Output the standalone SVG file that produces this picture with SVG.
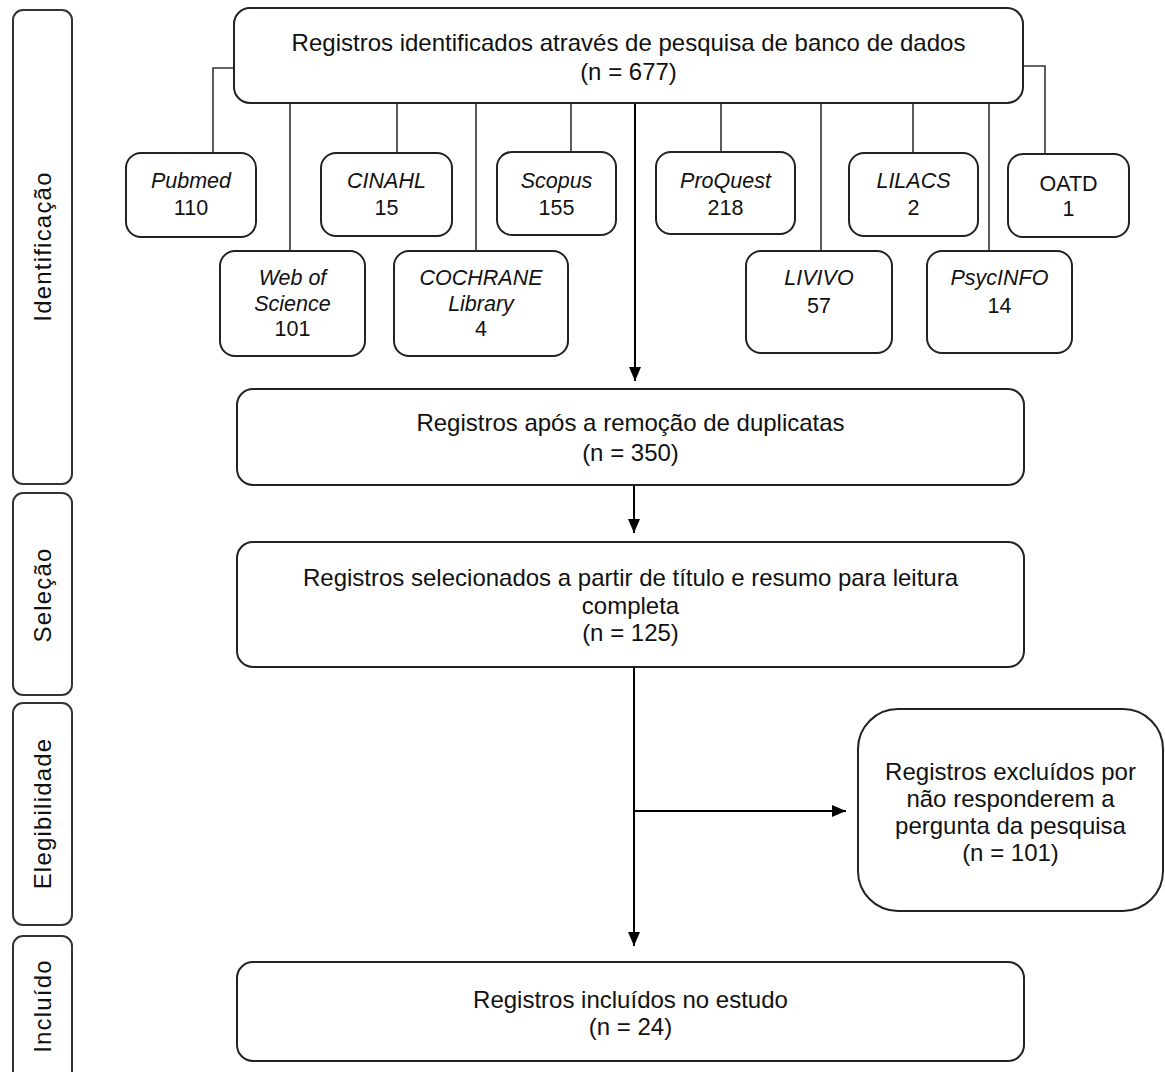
<svg xmlns="http://www.w3.org/2000/svg" width="1165" height="1072" viewBox="0 0 1165 1072">
<style>
  .box{fill:#fff;stroke:#222;stroke-width:2}
  .side{fill:#fff;stroke:#333;stroke-width:2}
  .t{font-family:"Liberation Sans",Arial,sans-serif;font-size:24px;fill:#111;text-anchor:middle}
  .d{font-family:"Liberation Sans",Arial,sans-serif;font-size:21.5px;fill:#111;text-anchor:middle}
  .i{font-style:italic}
  .s{font-family:"Liberation Sans",Arial,sans-serif;font-size:24px;fill:#111;text-anchor:middle;letter-spacing:1.2px}
  .c{fill:none;stroke:#333;stroke-width:1.6}
  .a{fill:none;stroke:#000;stroke-width:2}
</style>
<defs>
  <marker id="ah" markerUnits="userSpaceOnUse" markerWidth="14" markerHeight="14" viewBox="0 0 14 14" refX="14" refY="7" orient="auto">
    <path d="M0,1 L14,7 L0,13 Z" fill="#000"/>
  </marker>
</defs>
<rect width="1165" height="1072" fill="#fff"/>

<g id="phase-identificacao">
  <rect class="side" x="13" y="10" width="59" height="474" rx="10"/>
  <text class="s" transform="translate(50.5,246.5) rotate(-90)">Identificação</text>
</g>
<g id="phase-selecao">
  <rect class="side" x="13" y="493" width="59" height="202" rx="10"/>
  <text class="s" transform="translate(50.5,595) rotate(-90)">Seleção</text>
</g>
<g id="phase-elegibilidade">
  <rect class="side" x="13" y="703" width="59" height="222" rx="10"/>
  <text class="s" transform="translate(50.5,813.5) rotate(-90)">Elegibilidade</text>
</g>
<g id="phase-incluido">
  <rect class="side" x="13" y="936" width="59" height="150" rx="10"/>
  <text class="s" transform="translate(50.5,1006) rotate(-90)">Incluído</text>
</g>

<g id="connectors">
  <path class="c" d="M234,68 H213 V153"/>
  <path class="c" d="M1023,66 H1045 V154"/>
  <path class="c" d="M290,103 V251"/>
  <path class="c" d="M397,103 V153"/>
  <path class="c" d="M476,103 V251"/>
  <path class="c" d="M571,103 V152"/>
  <path class="c" d="M721,103 V152"/>
  <path class="c" d="M821,103 V251"/>
  <path class="c" d="M913,103 V153"/>
  <path class="c" d="M989,103 V251"/>
  <path class="a" d="M635,103 V381" marker-end="url(#ah)"/>
  <path class="a" d="M634,485 V533" marker-end="url(#ah)"/>
  <path class="a" d="M634,667 V946" marker-end="url(#ah)"/>
  <path class="a" d="M634,811 H846" marker-end="url(#ah)"/>
</g>

<g id="identified">
  <rect class="box" x="234" y="8" width="789" height="95" rx="16"/>
  <text class="t" x="628.5" y="51">Registros identificados através de pesquisa de banco de dados</text>
  <text class="t" x="628.5" y="80">(n = 677)</text>
</g>

<g id="pubmed">
  <rect class="box" x="126" y="153" width="130" height="84" rx="15"/>
  <text class="d i" x="191" y="188">Pubmed</text>
  <text class="d" x="191" y="215">110</text>
</g>
<g id="cinahl">
  <rect class="box" x="321" y="153" width="131" height="83" rx="15"/>
  <text class="d i" x="386.5" y="188">CINAHL</text>
  <text class="d" x="386.5" y="215">15</text>
</g>
<g id="scopus">
  <rect class="box" x="497" y="152" width="119" height="83" rx="15"/>
  <text class="d i" x="556.5" y="188">Scopus</text>
  <text class="d" x="556.5" y="215">155</text>
</g>
<g id="proquest">
  <rect class="box" x="656" y="152" width="139" height="82" rx="15"/>
  <text class="d i" x="725.5" y="188">ProQuest</text>
  <text class="d" x="725.5" y="215">218</text>
</g>
<g id="lilacs">
  <rect class="box" x="849" y="153" width="129" height="83" rx="15"/>
  <text class="d i" x="913.5" y="188">LILACS</text>
  <text class="d" x="913.5" y="215">2</text>
</g>
<g id="oatd">
  <rect class="box" x="1008" y="154" width="121" height="83" rx="15"/>
  <text class="d" x="1068.5" y="191">OATD</text>
  <text class="d" x="1068.5" y="216">1</text>
</g>
<g id="webofscience">
  <rect class="box" x="220" y="251" width="145" height="105" rx="15"/>
  <text class="d i" x="292.5" y="285">Web of</text>
  <text class="d i" x="292.5" y="311">Science</text>
  <text class="d" x="292.5" y="336">101</text>
</g>
<g id="cochrane">
  <rect class="box" x="394" y="251" width="174" height="105" rx="15"/>
  <text class="d i" x="481" y="285">COCHRANE</text>
  <text class="d i" x="481" y="311">Library</text>
  <text class="d" x="481" y="336">4</text>
</g>
<g id="livivo">
  <rect class="box" x="746" y="251" width="146" height="102" rx="15"/>
  <text class="d i" x="819" y="285">LIVIVO</text>
  <text class="d" x="819" y="313">57</text>
</g>
<g id="psycinfo">
  <rect class="box" x="927" y="251" width="145" height="102" rx="15"/>
  <text class="d i" x="999.5" y="285">PsycINFO</text>
  <text class="d" x="999.5" y="313">14</text>
</g>

<g id="after-duplicates">
  <rect class="box" x="237" y="389" width="787" height="96" rx="16"/>
  <text class="t" x="630.5" y="431">Registros após a remoção de duplicatas</text>
  <text class="t" x="630.5" y="461">(n = 350)</text>
</g>

<g id="screened">
  <rect class="box" x="237" y="542" width="787" height="125" rx="16"/>
  <text class="t" x="630.5" y="586">Registros selecionados a partir de título e resumo para leitura</text>
  <text class="t" x="630.5" y="614">completa</text>
  <text class="t" x="630.5" y="641">(n = 125)</text>
</g>

<g id="excluded">
  <rect class="box" x="858" y="709" width="305" height="202" rx="40"/>
  <text class="t" x="1010.5" y="780">Registros excluídos por</text>
  <text class="t" x="1010.5" y="807">não responderem a</text>
  <text class="t" x="1010.5" y="834">pergunta da pesquisa</text>
  <text class="t" x="1010.5" y="861">(n = 101)</text>
</g>

<g id="included">
  <rect class="box" x="237" y="962" width="787" height="99" rx="16"/>
  <text class="t" x="630.5" y="1008">Registros incluídos no estudo</text>
  <text class="t" x="630.5" y="1035">(n = 24)</text>
</g>
</svg>
